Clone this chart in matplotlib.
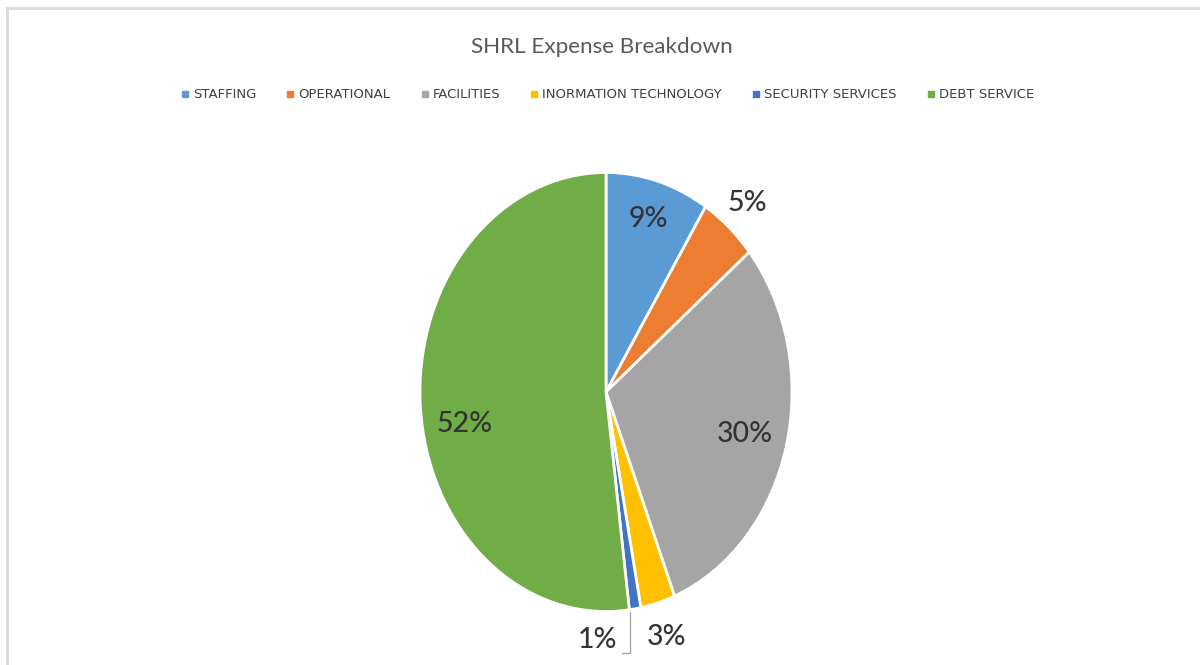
import numpy as np
import matplotlib
matplotlib.use("Agg")
import matplotlib.pyplot as plt
from matplotlib.lines import Line2D

categories = ["STAFFING", "OPERATIONAL", "FACILITIES", "INORMATION TECHNOLOGY",
              "SECURITY SERVICES", "DEBT SERVICE"]
shares = [9, 5, 30, 3, 1, 52]
colors = ["#5B9BD5", "#ED7D31", "#A5A5A5", "#FFC000", "#4472C4", "#70AD47"]

W, H = 1203, 665
fig = plt.figure(figsize=(W / 100, H / 100), dpi=100)

# outer chart frame
fig.add_artist(Line2D([7 / W, 1198 / W], [1 - 8 / H, 1 - 8 / H], color="#D9D9D9", lw=2))
fig.add_artist(Line2D([7 / W, 7 / W], [0, 1 - 8 / H], color="#D9D9D9", lw=2))

fig.text(0.5, 1 - 47 / H, "SHRL Expense Breakdown", ha="center", va="center",
         fontsize=16.2, color="#595959", family="Lato")

# pie, stretched vertically (rx=186px, ry=219px)
cx, cy, rx, ry = 606, 392, 186, 219.5
ax = fig.add_axes([(cx - 1.25 * rx) / W, (H - cy - 1.25 * ry) / H, 2.5 * rx / W, 2.5 * ry / H])
wedges, _ = ax.pie(shares, colors=colors, startangle=90, counterclock=False,
                   wedgeprops=dict(edgecolor="white", linewidth=2))
ax.set_aspect("auto")
ax.set_xlim(-1.25, 1.25)
ax.set_ylim(-1.25, 1.25)

# percentage labels
label_r = [0.82, 1.15, 0.77, 1.16, None, 0.76]
cum = np.cumsum([0] + shares)
for i, v in enumerate(shares):
    mid = np.deg2rad(90 - 3.6 * (cum[i] + v / 2))
    if label_r[i] is None:
        x, y = -0.043, -1.128
    else:
        x, y = label_r[i] * np.cos(mid), label_r[i] * np.sin(mid)
    if i == 5:
        y = -0.146
    ax.text(x, y, f"{v}%", ha="center", va="center", fontsize=20.5,
            color="#333333", family="Lato", weight="medium")

# leader line for the small slice
ax.plot([0.129, 0.129, 0.086], [-1.0, -1.19, -1.19], color="#A6A6A6", lw=1,
        clip_on=False)

handles = [Line2D([], [], marker="s", ls="", color=c, markersize=4) for c in colors]
fig.legend(handles, categories, loc="center", bbox_to_anchor=(0.505, 1 - 95 / H),
           ncol=6, frameon=False, handlelength=0.6, handletextpad=0.3,
           columnspacing=2.3,
           prop=dict(family=["Liberation Sans Narrow", "DejaVu Sans"], size=9.5),
           labelcolor="#404040")

fig.savefig("out.png", dpi=100)
